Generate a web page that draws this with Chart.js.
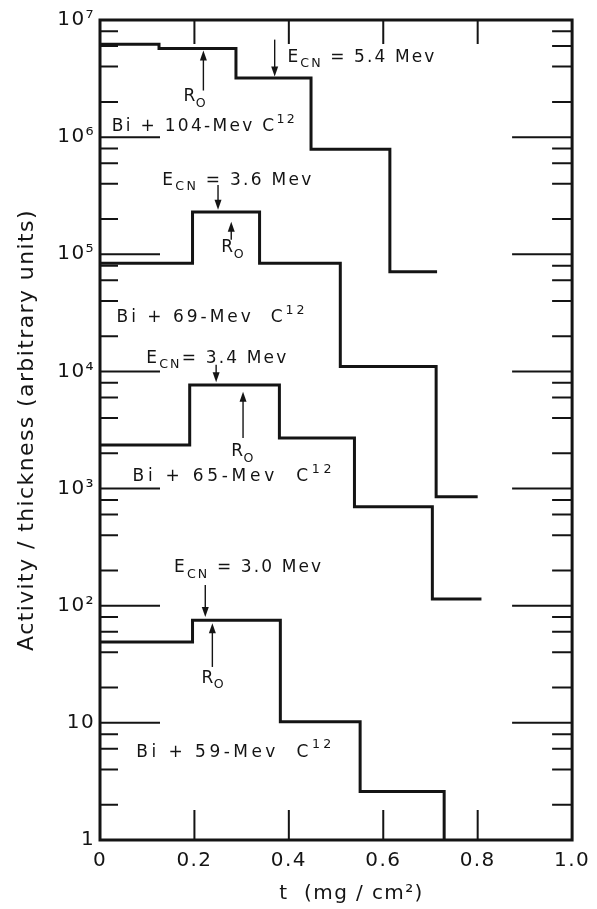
<!DOCTYPE html>
<html>
<head>
<meta charset="utf-8">
<script src="https://cdn.jsdelivr.net/npm/chart.js@4.4.0/dist/chart.umd.min.js"></script>
<style>
  html, body { margin: 0; padding: 0; background: #fff; }
  #wrap { width: 597px; height: 909px; position: relative; }
</style>
</head>
<body>
<div id="wrap"><canvas id="actCV"></canvas></div>
<script>
// axis ticks
const xTicks = [0, 0.2, 0.4, 0.6, 0.8, 1.0];
const decades = [1, 10, 100, 1e3, 1e4, 1e5, 1e6, 1e7];
const decadeLabels = ['1', '10', '10²', '10³', '10⁴', '10⁵', '10⁶', '10⁷'];
const minorSteps = [2, 4, 6, 8];

// bin edges (mg/cm2) and the activity level from each edge on
const edges104 = [0, 0.125, 0.288, 0.447, 0.614, 0.714];
const levels104 = [6.2e6, 5.7e6, 3.2e6, 7.9e5, 7.1e4, 7.1e4];

const edges69 = [0, 0.196, 0.338, 0.509, 0.712, 0.80];
const levels69 = [8.4e4, 2.3e5, 8.4e4, 1.1e4, 850, 850];

const edges65 = [0, 0.19, 0.38, 0.539, 0.704, 0.808];
const levels65 = [2350, 7650, 2700, 700, 114, 114];

const edges59 = [0, 0.196, 0.382, 0.551, 0.729];
const levels59 = [49, 75, 10.2, 2.6, 1];

const INK = '#141414';
const FONT = '"DejaVu Sans", sans-serif';

function steps(edges, levels) {
  return edges.map((x, i) => ({ x: x, y: levels[i] }));
}

function histo(edges, levels) {
  return {
    data: steps(edges, levels),
    stepped: 'before',
    borderColor: INK,
    borderWidth: 3,
    pointRadius: 0,
    fill: false,
    borderJoinStyle: 'miter'
  };
}

// text next to the curves: [text, 'sub'|'sup'|undefined]
const notes = [
  { x: 0.397, y: 4.8e6, w: 147, parts: [['E'], ['CN', 'sub'], [' = 5.4 Mev']] },
  { x: 0.177, y: 2.2e6, parts: [['R'], ['O', 'sub']] },
  { x: 0.025, y: 1.22e6, w: 183, parts: [['Bi + 104-Mev C'], ['12', 'sup']] },
  { x: 0.132, y: 4.3e5, w: 149, parts: [['E'], ['CN', 'sub'], [' = 3.6 Mev']] },
  { x: 0.257, y: 1.13e5, parts: [['R'], ['O', 'sub']] },
  { x: 0.035, y: 2.86e4, w: 188, parts: [['Bi + 69-Mev  C'], ['12', 'sup']] },
  { x: 0.098, y: 1.3e4, w: 140, parts: [['E'], ['CN', 'sub'], ['= 3.4 Mev']] },
  { x: 0.278, y: 2.05e3, parts: [['R'], ['O', 'sub']] },
  { x: 0.069, y: 1.26e3, w: 199, parts: [['Bi + 65-Mev  C'], ['12', 'sup']] },
  { x: 0.157, y: 210, w: 147, parts: [['E'], ['CN', 'sub'], [' = 3.0 Mev']] },
  { x: 0.215, y: 24, parts: [['R'], ['O', 'sub']] },
  { x: 0.077, y: 5.6, w: 195, parts: [['Bi + 59-Mev  C'], ['12', 'sup']] }
];

const arrows = [
  { x: 0.37, from: 6.8e6, to: 3.3e6 },
  { x: 0.219, from: 2.5e6, to: 5.5e6 },
  { x: 0.25, from: 3.9e5, to: 2.4e5 },
  { x: 0.278, from: 1.33e5, to: 1.9e5 },
  { x: 0.246, from: 1.14e4, to: 8.1e3 },
  { x: 0.303, from: 2.7e3, to: 6.7e3 },
  { x: 0.223, from: 150, to: 80 },
  { x: 0.238, from: 30, to: 71 }
];

function drawNote(ctx, x, y, n) {
  const size = 17;
  ctx.letterSpacing = '0px';
  const pieces = n.parts.map(([t, kind]) => {
    const fs = kind ? size * 0.74 : size;
    ctx.font = fs + 'px ' + FONT;
    return { t: t, kind: kind, fs: fs, w: ctx.measureText(t).width };
  });
  let gap = 0.5;
  if (n.w) {
    const natural = pieces.reduce((a, p) => a + p.w, 0);
    const count = pieces.reduce((a, p) => a + p.t.length, 0);
    gap = Math.max(0, (n.w - natural) / (count - 1));
  }
  ctx.letterSpacing = gap + 'px';
  let cx = x;
  pieces.forEach(p => {
    ctx.font = p.fs + 'px ' + FONT;
    let dy = 0;
    if (p.kind === 'sub') dy = size * 0.38;
    if (p.kind === 'sup') dy = -size * 0.42;
    ctx.fillText(p.t, cx, y + dy);
    cx += ctx.measureText(p.t).width;
  });
}

function drawArrow(ctx, x, y0, y1) {
  const dir = y1 > y0 ? 1 : -1;
  ctx.beginPath();
  ctx.moveTo(x, y0);
  ctx.lineTo(x, y1 - dir * 8);
  ctx.stroke();
  ctx.beginPath();
  ctx.moveTo(x, y1);
  ctx.lineTo(x - 3.5, y1 - dir * 10);
  ctx.lineTo(x + 3.5, y1 - dir * 10);
  ctx.closePath();
  ctx.fill();
}

const framePlugin = {
  id: 'frame',
  beforeDraw(chart) {
    // wider lettering for axis labels
    chart.ctx.letterSpacing = '1.4px';
  },
  beforeDatasetsDraw(chart) {
    chart.ctx.letterSpacing = '0px';
  },
  afterDatasetsDraw(chart) {
    const { ctx, chartArea: a, scales: { x, y } } = chart;
    ctx.save();
    ctx.strokeStyle = INK;
    ctx.fillStyle = INK;

    // inner ticks, left and right
    ctx.lineWidth = 2;
    ctx.beginPath();
    decades.forEach(d => {
      const py = y.getPixelForValue(d);
      if (d > 1 && d < 1e7) {
        ctx.moveTo(a.left, py); ctx.lineTo(a.left + 60, py);
        ctx.moveTo(a.right, py); ctx.lineTo(a.right - 60, py);
      }
      if (d < 1e7) {
        minorSteps.forEach(m => {
          const pm = y.getPixelForValue(d * m);
          ctx.moveTo(a.left, pm); ctx.lineTo(a.left + 18, pm);
          ctx.moveTo(a.right, pm); ctx.lineTo(a.right - 20, pm);
        });
      }
    });
    xTicks.slice(1, -1).forEach(v => {
      const px = x.getPixelForValue(v);
      ctx.moveTo(px, a.top); ctx.lineTo(px, a.top + 24);
      ctx.moveTo(px, a.bottom); ctx.lineTo(px, a.bottom - 30);
    });
    ctx.stroke();

    // frame
    ctx.lineWidth = 3;
    ctx.strokeRect(a.left, a.top, a.right - a.left, a.bottom - a.top);

    // arrows
    ctx.lineWidth = 1.4;
    arrows.forEach(ar => {
      drawArrow(ctx, x.getPixelForValue(ar.x), y.getPixelForValue(ar.from), y.getPixelForValue(ar.to));
    });

    // labels
    ctx.textBaseline = 'middle';
    ctx.textAlign = 'left';
    notes.forEach(n => drawNote(ctx, x.getPixelForValue(n.x), y.getPixelForValue(n.y), n));
    ctx.restore();
  }
};

(function(){
  const ctx = document.getElementById('actCV');

  new Chart(ctx, {
    type: 'line',
    data: {
      datasets: [
        histo(edges104, levels104),
        histo(edges69, levels69),
        histo(edges65, levels65),
        histo(edges59, levels59)
      ]
    },
    plugins: [framePlugin],
    options: {
      responsive: true,
      maintainAspectRatio: false,
      animation: false,
      layout: { padding: { top: 20, right: 18, bottom: 0, left: 0 } },
      plugins: {
        legend: { display: false },
        tooltip: { enabled: false }
      },
      scales: {
        x: {
          type: 'linear',
          min: 0,
          max: 1,
          grid: { display: false, drawTicks: false },
          border: { display: false },
          afterBuildTicks: s => { s.ticks = xTicks.map(v => ({ value: v })); },
          afterFit: s => { s.height = 69; },
          ticks: {
            padding: 9,
            autoSkip: false,
            maxRotation: 0,
            color: INK,
            font: { family: FONT, size: 20 },
            callback: v => v === 0 ? '0' : v.toFixed(1)
          },
          title: {
            display: true,
            text: '    t  (mg / cm²)',
            color: INK,
            font: { family: FONT, size: 20 },
            padding: { top: 0, bottom: 3 }
          }
        },
        y: {
          type: 'logarithmic',
          min: 1,
          max: 1e7,
          grid: { display: false, drawTicks: false },
          border: { display: false },
          afterBuildTicks: s => { s.ticks = decades.map(v => ({ value: v, major: true })); },
          afterFit: s => { s.width = 100; },
          ticks: {
            padding: 5,
            autoSkip: false,
            color: INK,
            font: { family: FONT, size: 20 },
            callback: v => {
              const i = decades.indexOf(v);
              return i < 0 ? '' : decadeLabels[i];
            }
          },
          title: {
            display: true,
            text: 'Activity / thickness (arbitrary units)',
            color: INK,
            font: { family: FONT, size: 22 },
            padding: { top: 14, bottom: 0 }
          }
        }
      }
    }
  });
})();
</script>
</body>
</html>
